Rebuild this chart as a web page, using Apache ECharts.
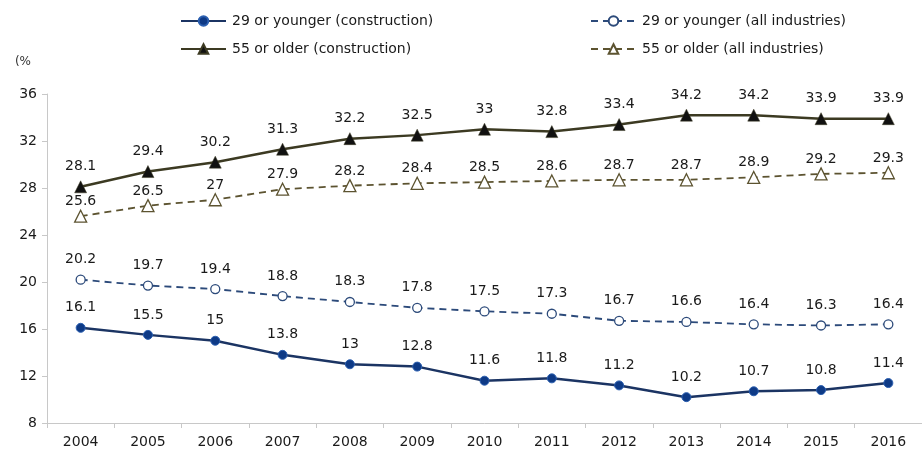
<!DOCTYPE html>
<html><head><meta charset="utf-8">
<script src="https://cdn.jsdelivr.net/npm/echarts@6/dist/echarts.min.js"></script>
<style>html,body{margin:0;padding:0;background:#fff}#c{width:922px;height:456px}</style>
</head><body><div id="c"></div>
<script>
const years = ['2004','2005','2006','2007','2008','2009','2010','2011','2012','2013','2014','2015','2016'];
const youngConstruction = [16.1,15.5,15,13.8,13,12.8,11.6,11.8,11.2,10.2,10.7,10.8,11.4];
const youngAll = [20.2,19.7,19.4,18.8,18.3,17.8,17.5,17.3,16.7,16.6,16.4,16.3,16.4];
const oldConstruction = [28.1,29.4,30.2,31.3,32.2,32.5,33,32.8,33.4,34.2,34.2,33.9,33.9];
const oldAll = [25.6,26.5,27,27.9,28.2,28.4,28.5,28.6,28.7,28.7,28.9,29.2,29.3];
const yTicks = [8,12,16,20,24,28,32,36];

const FONT = 'DejaVu Sans';
const TXT = '#1a1a1a';
const chart = echarts.init(document.getElementById('c'));
const lbl = (d) => ({show:true, position:'top', distance:d, color:TXT, fontFamily:FONT, fontSize:14});
const legendText = {fontFamily:FONT, fontSize:14, color:TXT, padding:[0,0,0,1]};
chart.setOption({
  animation:false,
  textStyle:{fontFamily:FONT},
  grid:{left:47, top:94, bottom:33, width:881, containLabel:false},
  legend:[{
    left:175, top:9, orient:'vertical', itemGap:14, itemWidth:45, itemHeight:12,
    textStyle:legendText,
    data:['29 or younger (construction)','55 or older (construction)']
  },{
    left:585, top:9, orient:'vertical', itemGap:14, itemWidth:45, itemHeight:12,
    textStyle:legendText,
    data:['29 or younger (all industries)','55 or older (all industries)']
  }],
  xAxis:{
    type:'category', data:years, boundaryGap:true,
    axisLine:{lineStyle:{color:'#c8c8c8'}},
    axisTick:{show:true, lineStyle:{color:'#c8c8c8'}, length:5},
    axisLabel:{color:TXT, fontFamily:FONT, fontSize:14, margin:12}
  },
  yAxis:{
    type:'value', min:8, max:36, interval:4,
    name:'(%', nameLocation:'end', nameGap:26,
    nameTextStyle:{color:'#333', fontFamily:FONT, fontSize:12, align:'right', padding:[0,16,0,0]},
    axisLine:{show:true, lineStyle:{color:'#c8c8c8'}},
    axisTick:{show:true, lineStyle:{color:'#c8c8c8'}, length:5},
    splitLine:{show:false},
    axisLabel:{color:TXT, fontFamily:FONT, fontSize:14, margin:10,
      formatter:(v)=> yTicks.includes(v) ? String(v) : ''}
  },
  series:[{
    name:'29 or younger (construction)', type:'line', data:youngConstruction,
    symbol:'circle', symbolSize:9,
    lineStyle:{color:'#1b3463', width:2.5}, itemStyle:{color:'#0e3a86', borderColor:'#2b5fb0', borderWidth:1},
    label:lbl(8)
  },{
    name:'29 or younger (all industries)', type:'line', data:youngAll,
    symbol:'circle', symbolSize:9,
    lineStyle:{color:'#2c4a7a', width:1.8, type:[7,5]},
    itemStyle:{color:'#fff', borderColor:'#2c4a7a', borderWidth:1.3},
    label:lbl(8)
  },{
    name:'55 or older (construction)', type:'line', data:oldConstruction,
    symbol:'triangle', symbolSize:12,
    lineStyle:{color:'#3c3a22', width:2.5}, itemStyle:{color:'#111', borderColor:'#3c3a22', borderWidth:0.5},
    label:lbl(7)
  },{
    name:'55 or older (all industries)', type:'line', data:oldAll,
    symbol:'triangle', symbolSize:12,
    lineStyle:{color:'#5c5330', width:1.8, type:[7,5]},
    itemStyle:{color:'#fff', borderColor:'#5c5330', borderWidth:1.3},
    label:lbl(1)
  }]
});
</script></body></html>
